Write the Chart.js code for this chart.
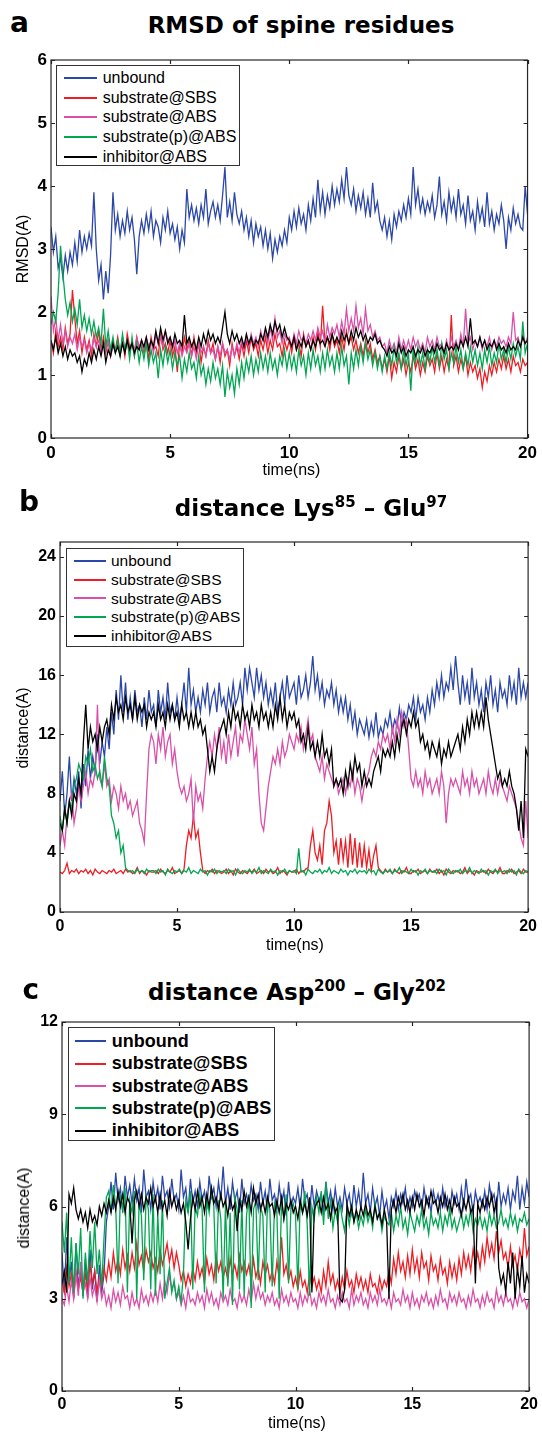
<!DOCTYPE html>
<html>
<head>
<meta charset="utf-8">
<script src="https://cdn.jsdelivr.net/npm/chart.js@4.4.1/dist/chart.umd.min.js"></script>
<style>
  body { margin: 0; background: #fff; }
  #page { position: relative; width: 542px; height: 1434px; overflow: hidden; font-family: "Liberation Sans", Arial, sans-serif; color: #000; }
  canvas { position: absolute; left: 0; }
  .lbl { position: absolute; line-height: 1; white-space: nowrap; }
  .letter { font-family: "DejaVu Sans", sans-serif; font-weight: bold; font-size: 28px; }
  .title { font-family: "DejaVu Sans", sans-serif; font-weight: bold; font-size: 23px; transform: translateX(-50%); }
  .title sup { font-size: 15px; vertical-align: 9px; line-height: 0; }
  .xt { font-size: 16px; transform: translate(-50%, -50%); }
  .yt { font-size: 16px; transform: translate(-50%, -50%) rotate(-90deg); }
  .legend { position: absolute; box-sizing: border-box; border: 1.3px solid #333; background: #fff; }
  .legend .ln { position: absolute; height: 2px; }
  .legend .tx { position: absolute; line-height: 1; white-space: nowrap; transform: translateY(-50%); }
</style>
</head>
<body>
<div id="page">
  <div class="lbl letter" style="left:10px; top:9px;">a</div>
  <div class="lbl title" style="left:301px; top:13.5px;">RMSD of spine residues</div>
  <canvas id="ca" width="542" height="440" style="top:40px;"></canvas>
  <div class="lbl yt" style="left:22.5px; top:248.5px;">RMSD(A)</div>
  <div class="lbl xt" style="left:291.5px; top:470px;">time(ns)</div>
  <div class="legend" id="lga" style="left:56.4px; top:65px; width:184px; height:101px;"></div>

  <div class="lbl letter" style="left:19px; top:488px;">b</div>
  <div class="lbl title" style="left:311px; top:496.5px;">distance Lys<sup>85</sup> – Glu<sup>97</sup></div>
  <canvas id="cb" width="542" height="460" style="top:500px;"></canvas>
  <div class="lbl yt" style="left:22.5px; top:728px;">distance(A)</div>
  <div class="lbl xt" style="left:295px; top:945px;">time(ns)</div>
  <div class="legend" id="lgb" style="left:65.8px; top:548.3px; width:178.5px; height:98.4px;"></div>

  <div class="lbl letter" style="left:22.5px; top:976px;">c</div>
  <div class="lbl title" style="left:297px; top:980.5px;">distance Asp<sup>200</sup> – Gly<sup>202</sup></div>
  <canvas id="cc" width="542" height="444" style="top:990px;"></canvas>
  <div class="lbl yt" style="left:24px; top:1208px;">distance(A)</div>
  <div class="lbl xt" style="left:297px; top:1423px;">time(ns)</div>
  <div class="legend" id="lgc" style="left:68.3px; top:1026.7px; width:207px; height:114px;"></div>
</div>

<script>
const step = 0.1; // ns between samples
const xTicks = [0, 5, 10, 15, 20];
const aYTicks = [0, 1, 2, 3, 4, 5, 6];
const bYTicks = [0, 4, 8, 12, 16, 20, 24];
const cYTicks = [0, 3, 6, 9, 12];

const seriesNames = ["unbound", "substrate@SBS", "substrate@ABS", "substrate(p)@ABS", "inhibitor@ABS"];
const seriesColors = ["#2b47a8", "#ee1d24", "#da50a8", "#00a651", "#000000"];

/* ===== a: RMSD of spine residues ===== */
const aUnbound = [
  3.35, 2.95, 3.2, 2.7, 2.85, 2.55, 2.9, 2.65, 2.95, 2.75,
  3.1, 2.8, 3.3, 2.95, 3.2, 3.0, 3.25, 3.05, 3.9, 3.0,
  2.5, 2.75, 2.2, 2.65, 2.3, 2.9, 3.9, 3.3, 3.55, 3.2,
  3.45, 3.25, 3.6, 3.3, 3.5, 3.15, 2.6, 3.2, 3.45, 3.25,
  3.55, 3.3, 3.6, 3.2, 3.45, 3.35, 3.1, 3.5, 3.3, 3.6,
  3.25, 3.4, 3.15, 3.35, 3.0, 3.3, 3.1, 3.95, 3.5, 3.7,
  3.45, 3.65, 3.4, 3.7, 3.5, 3.95, 3.4, 3.6, 3.75, 3.5,
  3.7, 3.45, 3.85, 4.3, 3.5, 3.75, 3.45, 3.9, 3.55, 3.4,
  3.6, 3.3, 3.5, 3.2, 3.45, 3.1, 3.4, 3.2, 3.35, 3.05,
  3.3, 3.0, 3.25, 2.85, 3.15, 2.95, 3.2, 3.05, 3.3, 3.1,
  3.5, 3.3, 3.6, 3.35, 3.65, 3.4, 3.55, 3.3, 3.7, 3.45,
  3.8, 3.5, 4.1, 3.6, 3.9, 3.55, 3.85, 3.65, 4.0, 3.7,
  3.95, 3.75, 4.1, 3.8, 4.3, 3.85, 3.7, 3.95, 3.6, 3.85,
  3.65, 3.9, 3.55, 3.8, 3.5, 4.05, 3.6, 3.75, 3.45, 3.3,
  3.5, 3.2, 3.45, 3.15, 3.55, 3.35, 3.6, 3.45, 3.7, 3.5,
  3.8, 3.55, 4.3, 3.7, 3.95, 3.6, 3.8, 3.55, 3.75, 3.6,
  3.85, 3.5, 3.7, 4.15, 3.55, 3.75, 3.45, 3.9, 3.6, 3.8,
  3.5, 3.95, 3.55, 3.7, 3.4, 3.85, 3.45, 3.6, 3.3, 3.75,
  3.45, 3.65, 3.35, 3.9, 3.4, 3.6, 3.3, 3.55, 3.4, 3.7,
  3.45, 3.0, 3.5, 3.3, 3.65, 3.4, 3.55, 3.35, 3.3, 4.0,
  3.55
];
const aSbs = [
  1.55, 1.35, 1.7, 1.45, 1.6, 1.4, 1.75, 1.5, 1.65, 2.35,
  1.9, 1.5, 1.7, 1.35, 1.6, 1.4, 1.55, 1.3, 1.65, 1.45,
  1.7, 1.4, 1.6, 1.35, 1.55, 1.3, 1.5, 1.4, 1.6, 1.35,
  1.55, 1.3, 1.65, 1.45, 1.5, 1.3, 1.6, 1.4, 1.55, 1.35,
  1.5, 1.25, 1.6, 1.4, 1.45, 1.3, 1.65, 1.4, 1.5, 1.35,
  1.55, 1.3, 1.45, 1.05, 1.5, 1.35, 1.6, 1.4, 1.55, 1.3,
  1.6, 1.35, 1.5, 1.2, 1.45, 1.3, 1.55, 1.35, 1.5, 1.25,
  1.45, 1.2, 1.5, 1.3, 1.4, 1.15, 1.5, 1.3, 1.45, 1.25,
  1.5, 1.3, 1.55, 1.35, 1.6, 1.4, 1.5, 1.3, 1.55, 1.4,
  1.6, 1.35, 1.55, 1.4, 1.65, 1.45, 1.5, 1.3, 1.55, 1.4,
  1.55, 1.35, 1.6, 1.4, 1.5, 1.3, 1.65, 1.45, 1.55, 1.4,
  1.6, 1.4, 1.7, 1.45, 2.1, 1.5, 1.6, 1.4, 1.65, 1.45,
  1.55, 1.35, 1.6, 1.4, 1.7, 1.5, 1.6, 1.4, 1.55, 1.35,
  1.5, 1.3, 1.55, 1.35, 1.5, 1.25, 1.4, 1.2, 1.3, 1.1,
  1.25, 1.05, 1.3, 0.95, 1.2, 1.05, 1.3, 1.1, 1.25, 1.0,
  1.2, 1.05, 1.3, 1.1, 1.25, 1.0, 1.2, 1.05, 1.3, 1.15,
  1.25, 1.05, 1.35, 1.1, 1.3, 1.05, 1.25, 1.1, 1.95, 1.15,
  1.3, 1.05, 1.25, 1.1, 1.3, 1.0, 1.2, 1.05, 1.15, 0.95,
  1.1, 0.8, 1.05, 0.9, 1.15, 1.0, 1.2, 1.05, 1.25, 1.1,
  1.3, 1.1, 1.25, 1.05, 1.3, 1.15, 1.2, 1.05, 1.25, 1.15,
  1.2
];
const aAbs = [
  2.25, 1.7, 1.9, 1.55, 1.8, 1.5, 1.7, 1.45, 1.6, 1.5,
  1.65, 1.4, 1.6, 1.45, 1.55, 1.35, 1.5, 1.4, 1.6, 1.45,
  1.55, 1.35, 1.5, 1.4, 1.55, 1.3, 1.45, 1.4, 1.5, 1.35,
  1.6, 1.4, 1.55, 1.35, 1.5, 1.4, 1.6, 1.45, 1.55, 1.4,
  1.6, 1.45, 1.55, 1.35, 1.65, 1.5, 1.6, 1.45, 1.7, 1.55,
  1.6, 1.4, 1.55, 1.35, 1.5, 1.3, 1.45, 1.35, 1.5, 1.3,
  1.45, 1.25, 1.5, 1.35, 1.45, 1.3, 1.5, 1.35, 1.4, 1.25,
  1.45, 1.3, 1.5, 1.35, 1.4, 1.25, 1.45, 1.3, 1.5, 1.35,
  1.55, 1.4, 1.6, 1.45, 1.65, 1.5, 1.6, 1.45, 1.7, 1.55,
  1.7, 1.5, 1.75, 1.55, 1.9, 1.6, 1.7, 1.5, 1.65, 1.55,
  1.6, 1.45, 1.65, 1.5, 1.7, 1.55, 1.6, 1.5, 1.65, 1.55,
  1.7, 1.55, 1.75, 1.6, 1.7, 1.5, 1.8, 1.6, 1.75, 1.65,
  1.8, 1.6, 1.85, 1.65, 2.05, 1.7, 1.9, 1.7, 2.1, 1.75,
  1.9, 1.65, 2.05, 1.7, 1.8, 1.6, 1.7, 1.55, 1.6, 1.45,
  1.5, 1.35, 1.55, 1.4, 1.5, 1.35, 1.6, 1.4, 1.55, 1.4,
  1.55, 1.4, 1.6, 1.45, 1.55, 1.4, 1.5, 1.35, 1.6, 1.45,
  1.55, 1.4, 1.6, 1.45, 1.5, 1.35, 1.55, 1.4, 1.6, 1.45,
  1.55, 1.4, 1.65, 1.45, 2.05, 1.5, 1.6, 1.4, 1.55, 1.45,
  1.6, 1.4, 1.55, 1.45, 1.6, 1.4, 1.55, 1.45, 1.6, 1.5,
  1.55, 1.45, 1.6, 1.5, 2.0, 1.55, 1.6, 1.45, 1.65, 1.5,
  1.6
];
const aAbsP = [
  1.8, 2.0, 1.85, 2.3, 3.05, 2.6, 2.2, 1.95, 2.15, 1.85,
  2.05, 1.8, 2.2, 1.75, 1.95, 1.7, 1.9, 1.65, 1.85, 1.6,
  1.75, 1.5, 2.05, 1.45, 1.7, 1.4, 1.6, 1.35, 1.55, 1.3,
  1.65, 1.4, 1.55, 1.25, 1.6, 1.3, 1.5, 1.2, 1.45, 1.25,
  1.5, 1.15, 1.4, 1.2, 1.35, 0.95, 1.4, 1.15, 1.45, 1.2,
  1.4, 1.1, 1.35, 1.15, 1.3, 0.95, 1.25, 1.05, 1.35, 1.1,
  1.2, 0.95, 1.3, 1.0, 1.15, 0.85, 1.1, 0.9, 1.2, 0.95,
  1.1, 0.85, 1.15, 0.65, 1.05, 0.8, 1.0, 0.7, 1.1, 0.85,
  1.2, 0.95, 1.25, 1.05, 1.3, 1.0, 1.25, 1.05, 1.35, 1.1,
  1.3, 1.05, 1.35, 1.1, 1.25, 1.0, 1.3, 1.15, 1.4, 1.1,
  1.35, 1.1, 1.3, 1.05, 1.4, 1.15, 1.3, 1.0, 1.35, 1.1,
  1.4, 1.15, 1.3, 1.05, 1.35, 1.1, 1.4, 1.15, 1.3, 1.05,
  1.35, 1.1, 1.45, 1.15, 1.3, 0.85, 1.35, 1.1, 1.4, 1.15,
  1.45, 1.2, 1.5, 1.25, 1.4, 1.15, 1.35, 1.1, 1.3, 1.05,
  1.3, 1.1, 1.35, 1.15, 1.45, 1.2, 1.35, 1.1, 1.4, 1.15,
  1.35, 0.75, 1.4, 1.2, 1.45, 1.15, 1.35, 1.1, 1.4, 1.2,
  1.45, 1.2, 1.4, 1.15, 1.5, 1.25, 1.4, 1.1, 1.35, 1.2,
  1.45, 1.2, 1.4, 1.1, 1.35, 1.15, 1.45, 1.2, 1.4, 1.15,
  1.35, 1.1, 1.4, 1.2, 1.45, 1.15, 1.35, 1.2, 1.5, 1.25,
  1.4, 1.2, 1.45, 1.25, 1.5, 1.3, 1.45, 1.25, 1.85, 1.35,
  1.5
];
const aInhib = [
  1.55, 1.4, 1.6, 1.35, 1.5, 1.3, 1.45, 1.25, 1.4, 1.3,
  1.35, 1.2, 1.3, 1.05, 1.25, 1.15, 1.35, 1.2, 1.4, 1.25,
  1.45, 1.3, 1.5, 1.2, 1.4, 1.3, 1.5, 1.35, 1.45, 1.3,
  1.5, 1.35, 1.55, 1.4, 1.5, 1.35, 1.45, 1.4, 1.55, 1.45,
  1.6, 1.4, 1.55, 1.45, 1.7, 1.5, 1.75, 1.55, 1.7, 1.5,
  1.6, 1.45, 1.65, 1.5, 1.55, 1.45, 1.95, 1.5, 1.6, 1.45,
  1.55, 1.4, 1.6, 1.45, 1.65, 1.5, 1.7, 1.55, 1.65, 1.5,
  1.6, 1.5, 1.75, 2.0, 1.65, 1.5, 1.7, 1.55, 1.65, 1.5,
  1.6, 1.45, 1.65, 1.5, 1.6, 1.45, 1.55, 1.5, 1.65, 1.55,
  1.75, 1.6, 1.8, 1.65, 1.85, 1.7, 1.8, 1.6, 1.75, 1.6,
  1.55, 1.45, 1.6, 1.4, 1.55, 1.45, 1.6, 1.45, 1.55, 1.4,
  1.55, 1.45, 1.6, 1.5, 1.55, 1.45, 1.6, 1.5, 1.65, 1.5,
  1.6, 1.5, 1.7, 1.55, 1.65, 1.5, 1.7, 1.55, 1.75, 1.6,
  1.7, 1.55, 1.65, 1.5, 1.6, 1.55, 1.65, 1.5, 1.55, 1.45,
  1.4, 1.3, 1.45, 1.35, 1.4, 1.3, 1.5, 1.35, 1.45, 1.3,
  1.4, 1.35, 1.45, 1.3, 1.4, 1.35, 1.45, 1.3, 1.4, 1.35,
  1.45, 1.35, 1.5, 1.4, 1.45, 1.35, 1.5, 1.4, 1.45, 1.4,
  1.5, 1.4, 1.55, 1.45, 1.6, 1.45, 1.9, 1.5, 1.55, 1.45,
  1.6, 1.45, 1.55, 1.4, 1.5, 1.45, 1.55, 1.4, 1.5, 1.4,
  1.45, 1.35, 1.5, 1.4, 1.45, 1.4, 1.55, 1.45, 1.6, 1.5,
  1.55
];

/* ===== b: distance Lys85 - Glu97 ===== */
const bUnbound = [
  7.5, 9.5, 6.5, 8, 10.5, 7.5, 9, 8, 9.5, 7,
  10, 8.5, 11, 9, 10.5, 9.5, 12, 10, 11.5, 10.5,
  12.5, 11, 13.5, 12, 15, 13, 16, 13.5, 15.5, 13,
  14.5, 13, 15, 13.5, 14, 12.5, 14.5, 13, 15, 13.5,
  14, 12.5, 15, 13.5, 14.5, 13, 15.5, 13.5, 14, 13,
  14.5, 13, 14, 15.5, 13.5, 16.5, 14, 15, 13.5, 14.5,
  13.5, 15, 14, 15.5, 13.5, 14.5, 15, 13.5, 15.5, 14,
  14.5, 13.5, 15, 14, 15.5, 14, 14.5, 15.5, 14, 16.5,
  15, 16.5, 15.5, 14.5, 16.5, 15, 16, 14.5, 15.5, 14,
  15, 14, 15.5, 13.5, 14.5, 15.5, 14, 16, 14.5, 15,
  15.5, 14, 16, 14.5, 15, 16, 14.5, 15.5, 17.3, 15,
  16, 14.5, 15.5, 14, 15, 14.5, 15.5, 14, 15, 13.5,
  14.5, 13.5, 14.5, 13, 14, 12.5, 13.5, 12, 13, 12.5,
  12, 13, 11.8, 12.8, 12, 13.5, 11.8, 12.5, 12, 13,
  12.5, 13.5, 12.2, 13, 12.5, 13.8, 12.5, 13.5, 13, 14,
  13.5, 14.5, 13, 14.5, 13.5, 14, 13, 14.5, 13.5, 15,
  14, 15.5, 14.5, 16, 14.5, 15.5, 15, 16.5, 15, 17.3,
  15.5, 14, 16, 14.5, 15.5, 14, 16.5, 14.5, 15.5, 14,
  15, 13.5, 15.5, 14.5, 16, 14, 15, 13.5, 15.5, 14.5,
  15, 14, 16, 14.5, 15.5, 14, 16.5, 14.5, 15.5, 14.5,
  15.5
];
const bSbs = [
  2.7, 2.6, 2.8, 3.3, 2.6, 2.8, 2.7, 2.9, 2.6, 2.8,
  2.7, 2.9, 2.6, 2.8, 2.5, 2.9, 2.7, 2.6, 2.8, 2.7,
  2.6, 2.8, 2.7, 2.9, 2.6, 2.7, 2.8, 2.6, 2.9, 2.7,
  2.8, 2.6, 2.7, 3.0, 2.6, 2.8, 2.7, 2.5, 2.8, 2.7,
  2.7, 2.8, 2.6, 2.9, 2.7, 2.6, 2.8, 2.7, 3.0, 2.6,
  2.7, 2.8, 2.6, 2.9, 4.5, 5.5, 5.0, 6.5, 5.0, 5.5,
  4.0, 2.8, 2.6, 2.8, 2.7, 2.9, 2.6, 2.8, 2.7, 2.6,
  2.7, 2.9, 2.6, 2.8, 2.5, 2.9, 2.7, 2.6, 2.8, 2.7,
  2.6, 2.8, 2.7, 2.9, 2.6, 2.7, 2.8, 2.6, 2.9, 2.7,
  2.8, 2.6, 2.7, 3.0, 2.6, 2.8, 2.7, 2.5, 2.8, 2.7,
  2.7, 2.9, 2.6, 2.8, 2.7, 2.9, 3.0, 4.5, 5.5, 4.0,
  3.5, 4.5, 3.2, 5.5, 6.0, 7.5, 6.5, 4.0, 4.8, 3.2,
  5.0, 3.5, 4.8, 3.0, 5.3, 3.2, 5.0, 3.0, 4.7, 3.0,
  4.5, 3.0, 4.2, 2.8, 3.8, 4.5, 3.0, 2.8, 2.6, 2.9,
  2.7, 2.8, 2.6, 2.9, 2.7, 2.6, 2.8, 2.7, 3.0, 2.6,
  2.6, 2.8, 2.7, 2.9, 2.6, 2.7, 2.8, 2.6, 2.9, 2.7,
  2.7, 2.9, 2.6, 2.8, 2.5, 2.9, 2.7, 2.6, 2.8, 2.7,
  2.8, 2.6, 2.7, 3.0, 2.6, 2.8, 2.7, 2.5, 2.8, 2.7,
  2.7, 2.8, 2.6, 2.9, 2.7, 2.6, 2.8, 2.7, 3.0, 2.6,
  2.6, 2.8, 2.7, 2.9, 2.6, 2.7, 2.8, 2.6, 2.9, 2.7,
  2.7
];
const bAbs = [
  4.5, 5.5, 4.5, 6.5, 7.5, 8, 6, 7, 8.5, 7.5,
  8.5, 9.5, 8, 9, 8.5, 9.5, 14, 9, 8.5, 10,
  8.5, 9, 7.5, 8.5, 8, 7, 8.5, 7.5, 8, 7,
  7.5, 6.5, 7, 7.5, 6, 5.5, 4.7, 8, 11, 12,
  11.5, 10, 12, 11, 12.5, 10.5, 11.5, 12, 10, 11,
  9.5, 8.5, 8, 8.5, 7.5, 8, 9, 6, 8.5, 7.5,
  8, 7, 9, 10.5, 11.5, 10.5, 12, 11, 12.5, 10.5,
  11.5, 10, 12, 10.5, 11.5, 12.5, 10.5, 12, 11.5, 13,
  12, 11, 12.5, 10, 11, 8, 6, 5.5, 7, 8.5,
  9.5, 10.5, 10, 11, 10, 11.5, 10.5, 11, 12, 11.5,
  11, 12, 11.5, 12.5, 11, 12, 13, 11.5, 12, 10.5,
  10, 9.5, 10.5, 9, 10, 9.5, 9, 8.5, 9, 8,
  8.5, 9, 8, 9, 8.5, 9.5, 8, 9, 8.5, 7.5,
  8.5, 9, 9.5, 10.5, 11, 10.5, 11.5, 11, 12, 11.5,
  12, 11, 12.5, 11.5, 13, 12, 13.5, 12.5, 13, 11,
  9, 8.5, 9.5, 8.5, 9, 8, 9.5, 8.5, 9, 8,
  8.5, 9, 8, 9.5, 8.5, 6, 8, 9, 8.5, 9,
  8.5, 8, 9.5, 8.5, 9, 8, 9.5, 8.5, 9, 8,
  8.5, 9, 8, 9.5, 8.5, 8, 9, 8, 9, 8.5,
  8, 7.5, 8.5, 8, 7.5, 7, 6, 5, 4.5, 7.5,
  5
];
const bAbsP = [
  6.5, 5.5, 7, 6, 7.5, 7, 8.5, 9, 10, 9.5,
  9, 10.5, 10, 11, 9.5, 10, 9, 9.5, 8.5, 10.5,
  9, 8.5, 6.5, 6, 5, 5.5, 4, 4.5, 3, 2.8,
  2.7, 2.8, 2.6, 2.9, 2.7, 2.8, 2.6, 2.9, 2.7, 2.8,
  2.8, 2.6, 2.9, 2.7, 2.8, 2.5, 2.9, 2.7, 2.6, 2.8,
  2.7, 2.9, 2.6, 2.8, 2.7, 3.0, 2.6, 2.8, 2.7, 2.6,
  2.9, 2.7, 2.8, 2.5, 2.8, 2.7, 2.9, 2.6, 2.8, 2.7,
  2.8, 2.6, 2.9, 2.7, 2.8, 2.5, 2.9, 2.7, 2.6, 2.8,
  2.7, 2.9, 2.6, 2.8, 2.7, 3.0, 2.6, 2.8, 2.7, 2.6,
  2.9, 2.7, 2.8, 2.5, 2.8, 2.7, 2.9, 2.6, 2.8, 2.7,
  2.8, 2.6, 4.3, 2.7, 2.8, 2.5, 2.9, 2.7, 2.6, 2.8,
  2.7, 2.9, 2.6, 2.8, 2.7, 3.0, 2.6, 2.8, 2.7, 2.6,
  2.9, 2.7, 2.8, 2.5, 2.8, 2.7, 2.9, 2.6, 2.8, 2.7,
  2.8, 2.6, 2.9, 2.7, 2.8, 2.5, 2.9, 2.7, 2.6, 2.8,
  2.7, 2.9, 2.6, 2.8, 2.7, 3.0, 2.6, 2.8, 2.7, 2.6,
  2.9, 2.7, 2.8, 2.5, 2.8, 2.7, 2.9, 2.6, 2.8, 2.7,
  2.8, 2.6, 2.9, 2.7, 2.8, 2.5, 2.9, 2.7, 2.6, 2.8,
  2.7, 2.9, 2.6, 2.8, 2.7, 3.0, 2.6, 2.8, 2.7, 2.6,
  2.9, 2.7, 2.8, 2.5, 2.8, 2.7, 2.9, 2.6, 2.8, 2.7,
  2.8, 2.6, 2.9, 2.7, 2.8, 2.5, 2.9, 2.7, 2.6, 2.8,
  2.7
];
const bInhib = [
  6, 5.5, 7, 6, 7.5, 6.5, 8, 7.5, 9, 8,
  11.5, 14, 11, 12.5, 11.5, 12, 11, 12.5, 11.5, 12.5,
  13, 12, 14, 13, 14.5, 13.5, 14, 13, 14.5, 13.5,
  14, 13, 14.5, 13, 14, 13.5, 14, 12.5, 13.5, 13,
  13.5, 12.5, 14, 13, 13.5, 12.5, 14, 13, 14, 13,
  13.5, 12.5, 14, 13, 13.5, 12.5, 13.5, 12.5, 13.5, 12.5,
  13, 12, 12.5, 11, 9.5, 10.5, 9.5, 11, 12, 12.5,
  13, 12, 13.5, 12.5, 14, 13, 13.5, 12.5, 14, 13,
  13.5, 12.5, 14, 13, 13.5, 12.5, 14, 13, 13.5, 12.5,
  13.5, 12.5, 14, 13, 14.5, 13, 14, 12.5, 13.5, 13,
  13.5, 12.5, 13, 11.5, 12, 11, 12.5, 11, 11.5, 10.5,
  11.5, 10.5, 12, 10.5, 11, 10, 11, 8.5, 9, 8.5,
  9, 8, 9.5, 8.5, 10, 9, 10.5, 9.5, 10, 8.5,
  9.5, 8.5, 9, 8.5, 9.5, 10, 10.5, 9.5, 11, 10.5,
  11, 10.5, 11.5, 10.5, 12, 11, 12.5, 13, 12, 13,
  12.5, 13.5, 12.5, 13, 11.5, 12, 11, 11.5, 10.5, 11.5,
  11, 10.5, 11.5, 10, 11, 10.5, 11.5, 10.5, 11, 11.5,
  12, 11, 12.5, 11.5, 13, 12, 13.5, 12.5, 13.5, 12.5,
  13.5, 12.5, 14.5, 13, 12, 11, 10, 9, 9.5, 8.5,
  9, 8.5, 9.5, 8.5, 8, 7, 5.5, 7.5, 5, 11,
  10.5
];

/* ===== c: distance Asp200 - Gly202 ===== */
const cUnbound = [
  4.5, 3.2, 5.0, 3.5, 4.2, 3.0, 4.8, 3.4, 4.0, 3.1,
  4.3, 3.0, 4.6, 3.3, 3.9, 2.9, 4.1, 3.2, 3.8, 5.5,
  6.0, 6.8, 5.9, 7.1, 6.2, 6.6, 5.8, 7.0, 6.3, 6.7,
  6.1, 6.9, 6.2, 6.6, 5.8, 7.2, 6.3, 6.5, 5.9, 6.8,
  6.2, 6.6, 5.9, 7.0, 6.3, 6.5, 6.0, 6.9, 6.2, 6.4,
  5.9, 7.2, 6.3, 6.6, 5.8, 6.9, 6.1, 6.5, 6.0, 6.8,
  6.2, 6.5, 5.9, 7.0, 6.3, 6.6, 6.0, 6.8, 6.2, 7.3,
  6.1, 6.6, 5.9, 6.8, 6.2, 6.5, 5.8, 6.9, 6.1, 6.4,
  6.0, 6.7, 6.2, 6.4, 5.9, 6.8, 6.1, 6.5, 5.8, 6.9,
  6.2, 6.4, 5.9, 6.7, 6.1, 6.5, 5.7, 6.8, 6.0, 6.3,
  6.1, 6.6, 5.9, 6.9, 6.2, 6.4, 5.8, 6.7, 6.0, 6.5,
  6.2, 6.4, 5.8, 6.8, 6.1, 6.5, 5.9, 6.6, 6.0, 6.3,
  5.9, 6.6, 6.1, 6.4, 5.8, 6.7, 6.0, 6.5, 5.9, 7.1,
  6.1, 6.4, 5.8, 6.6, 6.0, 6.3, 5.7, 6.5, 5.9, 6.2,
  5.6, 6.3, 6.0, 6.5, 5.9, 6.4, 6.1, 6.6, 5.9, 6.3,
  6.0, 6.5, 6.2, 6.4, 5.9, 6.6, 6.1, 6.3, 5.8, 6.5,
  6.1, 6.4, 5.9, 6.6, 6.0, 6.3, 5.8, 6.5, 6.1, 6.4,
  5.9, 6.6, 6.0, 6.9, 6.2, 6.4, 5.8, 6.5, 6.1, 6.3,
  6.0, 6.5, 5.9, 6.7, 6.2, 6.4, 5.8, 6.8, 6.0, 6.4,
  6.1, 6.6, 5.9, 6.5, 6.2, 7.0, 5.9, 6.6, 6.1, 6.8,
  6.3
];
const cSbs = [
  3.6, 3.2, 4.0, 3.4, 3.8, 3.1, 3.9, 3.3, 3.7, 3.2,
  3.8, 3.3, 4.1, 3.5, 3.9, 3.2, 3.7, 3.4, 4.0, 3.6,
  4.2, 3.7, 4.5, 3.9, 4.3, 3.8, 4.6, 4.0, 4.4, 3.9,
  4.5, 4.0, 4.8, 4.1, 4.4, 3.9, 4.6, 4.2, 4.5, 4.0,
  4.3, 3.9, 4.6, 4.1, 4.4, 4.8, 4.2, 4.6, 4.0, 4.5,
  4.1, 3.6, 3.9, 3.4, 3.8, 3.5, 4.0, 3.6, 4.2, 3.7,
  4.0, 3.5, 4.3, 3.8, 4.1, 3.6, 4.4, 3.9, 4.2, 3.7,
  4.0, 3.6, 4.3, 3.8, 4.1, 3.7, 4.4, 3.9, 4.2, 3.8,
  4.1, 3.6, 4.3, 3.7, 4.0, 3.5, 4.2, 3.8, 4.1, 3.6,
  3.9, 3.5, 4.2, 3.7, 5.0, 3.8, 4.1, 3.6, 3.9, 3.4,
  3.7, 3.3, 3.9, 3.4, 3.6, 3.2, 3.8, 3.4, 3.7, 3.3,
  3.6, 3.2, 3.9, 3.4, 4.2, 3.5, 3.8, 3.3, 3.6, 3.2,
  3.7, 3.3, 3.9, 3.4, 3.6, 3.2, 3.8, 3.4, 3.7, 3.3,
  3.6, 3.2, 3.8, 3.4, 3.5, 3.2, 3.7, 3.3, 3.6, 3.4,
  3.9, 3.5, 4.3, 3.8, 4.5, 3.9, 4.2, 3.7, 4.4, 3.8,
  4.6, 3.9, 4.3, 3.7, 4.5, 4.0, 4.2, 3.6, 4.4, 3.9,
  4.1, 3.6, 4.3, 3.8, 4.0, 3.5, 4.2, 3.7, 4.1, 3.6,
  4.3, 3.8, 4.5, 4.0, 4.4, 3.9, 4.6, 4.1, 4.5, 4.0,
  4.7, 4.2, 5.0, 4.4, 4.8, 4.3, 5.2, 4.5, 4.9, 4.3,
  4.5, 4.0, 4.7, 4.1, 4.4, 3.9, 4.6, 4.2, 5.3, 4.4,
  4.7
];
const cAbs = [
  3.0, 2.8, 3.4, 2.9, 3.6, 3.0, 3.8, 3.1, 4.2, 3.2,
  3.5, 3.0, 3.7, 3.1, 3.4, 2.9, 3.6, 3.0, 3.3, 2.8,
  3.1, 2.7, 3.3, 2.9, 3.2, 2.8, 3.4, 3.0, 3.1, 2.7,
  3.2, 2.8, 3.0, 2.7, 3.3, 2.9, 3.1, 2.8, 3.2, 2.9,
  3.3, 2.9, 3.5, 3.0, 3.6, 3.2, 3.8, 3.3, 3.5, 3.0,
  3.2, 2.8, 3.1, 2.7, 3.3, 2.9, 3.0, 2.8, 3.2, 2.9,
  3.1, 2.7, 3.3, 2.9, 3.2, 2.8, 3.0, 2.7, 3.2, 2.9,
  3.1, 2.8, 3.3, 2.9, 3.0, 2.7, 3.2, 2.9, 3.1, 2.8,
  3.3, 2.9, 3.5, 3.0, 3.4, 3.0, 3.2, 2.8, 3.1, 2.9,
  3.2, 2.8, 3.0, 2.7, 3.3, 2.9, 3.1, 2.8, 3.2, 2.9,
  3.0, 2.7, 3.2, 2.8, 3.1, 2.9, 3.3, 2.8, 3.0, 2.7,
  3.2, 2.9, 3.1, 2.8, 3.3, 2.9, 3.0, 2.7, 3.1, 2.8,
  3.2, 2.9, 3.0, 2.7, 3.3, 2.8, 3.1, 2.9, 3.2, 2.8,
  3.0, 2.7, 3.2, 2.9, 3.1, 2.8, 3.3, 2.9, 3.0, 2.8,
  3.1, 2.7, 3.2, 2.9, 3.0, 2.8, 3.3, 2.9, 3.1, 2.7,
  3.2, 2.8, 3.0, 2.7, 3.1, 2.9, 3.2, 2.8, 3.0, 2.7,
  3.1, 2.8, 3.3, 2.9, 3.0, 2.7, 3.2, 2.9, 3.1, 2.8,
  3.2, 2.9, 3.0, 2.7, 3.1, 2.8, 3.3, 2.9, 3.0, 2.7,
  3.1, 2.8, 3.2, 2.9, 3.0, 2.7, 3.3, 2.9, 3.1, 2.8,
  3.2, 2.9, 3.0, 2.7, 3.1, 2.8, 3.2, 2.9, 3.0, 2.7,
  3.0
];
const cAbsP = [
  5.5, 4.5, 5.8, 3.5, 5.0, 3.2, 4.8, 3.8, 5.3, 3.0,
  4.5, 3.5, 5.2, 4.0, 5.5, 3.8, 4.6, 3.4, 5.0, 6.3,
  6.5, 5.8, 6.7, 6.0, 3.5, 6.4, 5.9, 6.6, 3.2, 6.2,
  5.8, 6.5, 3.0, 6.1, 5.7, 3.6, 6.3, 5.9, 3.3, 6.4,
  3.1, 5.8, 3.8, 6.2, 3.0, 3.5, 4.0, 3.2, 3.6, 3.0,
  3.4, 2.9, 3.8, 6.2, 5.8, 6.5, 3.3, 6.0, 5.7, 6.4,
  5.9, 3.2, 6.3, 5.8, 6.6, 6.0, 3.5, 6.2, 5.6, 3.0,
  6.1, 3.4, 5.8, 2.8, 6.3, 5.9, 3.3, 6.2, 3.1, 5.7,
  6.4, 2.7, 5.9, 6.2, 3.6, 6.0, 5.7, 3.2, 6.3, 5.9,
  3.4, 6.1, 5.8, 3.0, 6.2, 5.6, 6.4, 3.5, 5.9, 6.1,
  5.7, 3.3, 6.2, 5.8, 6.5, 5.4, 3.1, 6.0, 5.6, 6.3,
  5.8, 6.5, 5.4, 6.8, 5.6, 6.2, 5.3, 5.9, 5.5, 6.1,
  5.6, 5.2, 5.9, 5.4, 6.0, 5.5, 5.8, 5.3, 5.7, 5.4,
  5.9, 5.5, 5.8, 5.3, 6.1, 5.6, 5.8, 5.2, 5.7, 5.5,
  5.4, 5.8, 5.2, 5.7, 5.4, 6.0, 5.3, 5.6, 5.1, 5.8,
  5.5, 5.2, 5.7, 5.4, 5.9, 5.3, 5.6, 5.1, 5.8, 5.4,
  5.6, 5.3, 5.8, 5.2, 5.7, 5.4, 5.9, 5.3, 5.6, 5.2,
  5.5, 5.8, 5.3, 5.7, 5.4, 5.9, 5.2, 5.6, 5.4, 5.7,
  5.3, 5.6, 5.2, 5.8, 5.4, 5.7, 5.3, 5.5, 5.9, 5.4,
  5.6, 5.3, 5.8, 5.4, 5.7, 5.2, 5.6, 5.5, 5.8, 5.4,
  5.6
];
const cInhib = [
  3.5, 3.9, 3.2, 6.4, 6.1, 6.6, 5.9, 5.6, 5.9, 5.5,
  5.8, 5.3, 5.9, 5.5, 5.7, 5.4, 6.0, 5.7, 6.1, 5.8,
  6.2, 5.8, 6.3, 5.9, 6.5, 6.0, 6.4, 5.8, 6.3, 6.1,
  4.8, 6.2, 6.5, 6.0, 6.4, 5.9, 6.3, 6.1, 6.6, 6.0,
  6.3, 5.8, 6.4, 5.9, 6.2, 5.7, 6.5, 6.0, 6.3, 5.9,
  6.2, 5.8, 6.1, 5.5, 4.6, 5.6, 6.3, 5.9, 6.5, 6.0,
  6.3, 5.8, 6.4, 6.0, 6.6, 6.1, 6.3, 5.9, 6.4, 6.0,
  6.2, 5.7, 6.3, 5.9, 6.1, 5.2, 6.2, 5.9, 6.5, 6.0,
  6.3, 5.8, 6.6, 6.1, 6.4, 5.9, 6.2, 5.8, 6.3, 6.0,
  6.1, 5.7, 6.2, 5.8, 6.3, 5.6, 6.1, 5.9, 6.2, 5.8,
  6.0, 5.6, 6.2, 5.8, 6.1, 5.7, 6.3, 3.2, 5.9, 6.1,
  6.2, 5.8, 6.3, 5.9, 6.1, 5.6, 6.2, 5.8, 6.0, 3.0,
  2.9, 3.3, 6.1, 5.7, 6.0, 5.5, 5.9, 5.6, 6.0, 5.7,
  6.1, 5.7, 5.9, 5.5, 6.0, 5.6, 5.8, 5.4, 5.9, 5.5,
  3.0, 5.9, 6.2, 5.8, 6.3, 6.0, 6.4, 5.9, 6.2, 5.8,
  6.3, 5.9, 6.4, 6.0, 6.2, 5.7, 6.3, 6.0, 6.5, 6.1,
  6.2, 5.8, 6.3, 6.0, 6.4, 5.9, 6.2, 5.8, 6.3, 6.0,
  6.1, 5.7, 6.2, 5.9, 6.3, 5.8, 6.0, 3.5, 6.1, 5.8,
  6.2, 5.9, 6.3, 6.0, 6.4, 5.8, 6.2, 4.0, 3.5, 3.8,
  3.2, 4.2, 3.5, 4.5, 3.0, 4.0, 3.4, 4.4, 3.2, 3.8,
  3.5
];

/* ===== frame + inward tick marks, matlab style ===== */
const framePlugin = {
  id: "frame",
  afterDatasetsDraw(chart) {
    const { ctx, chartArea: a, scales: { x, y } } = chart;
    const tl = 4;
    ctx.save();
    ctx.strokeStyle = "#262626";
    ctx.lineWidth = 1.2;
    ctx.beginPath();
    x.ticks.forEach(t => {
      const px = Math.round(x.getPixelForValue(t.value)) + 0.5;
      ctx.moveTo(px, a.bottom); ctx.lineTo(px, a.bottom - tl);
      ctx.moveTo(px, a.top); ctx.lineTo(px, a.top + tl);
    });
    y.ticks.forEach(t => {
      const py = Math.round(y.getPixelForValue(t.value)) + 0.5;
      ctx.moveTo(a.left, py); ctx.lineTo(a.left + tl, py);
      ctx.moveTo(a.right, py); ctx.lineTo(a.right - tl, py);
    });
    ctx.stroke();
    ctx.strokeRect(a.left, a.top, a.right - a.left, a.bottom - a.top);
    ctx.restore();
  }
};

function makePanel(id, series, yMax, yTicks, yw, pad, fontSize, xPad) {
  const datasets = series.map((vals, i) => ({
    label: seriesNames[i],
    data: vals.map((v, k) => ({ x: k * step, y: v })),
    borderColor: seriesColors[i],
    borderWidth: 1.3,
    pointRadius: 0,
    tension: 0,
    order: series.length - 1 - i
  }));
  const tickFont = { family: "Liberation Sans", weight: "bold", size: fontSize };
  return new Chart(document.getElementById(id), {
    type: "line",
    data: { datasets },
    options: {
      responsive: false,
      animation: false,
      events: [],
      layout: { padding: pad },
      plugins: { legend: { display: false }, tooltip: { enabled: false } },
      scales: {
        x: {
          type: "linear", min: 0, max: 20,
          afterBuildTicks: s => { s.ticks = xTicks.map(v => ({ value: v })); },
          afterFit: s => { s.height = 30; },
          grid: { display: false, drawTicks: false },
          border: { display: false },
          ticks: { font: tickFont, color: "#000", padding: xPad, maxRotation: 0, autoSkip: false }
        },
        y: {
          type: "linear", min: 0, max: yMax,
          afterBuildTicks: s => { s.ticks = yTicks.map(v => ({ value: v })); },
          afterFit: s => { s.width = yw; },
          grid: { display: false, drawTicks: false },
          border: { display: false },
          ticks: { font: tickFont, color: "#000", padding: 4, autoSkip: false }
        }
      }
    },
    plugins: [framePlugin]
  });
}

makePanel("ca", [aUnbound, aSbs, aAbs, aAbsP, aInhib], 6, aYTicks, 51,
  { top: 20, right: 10, bottom: 12, left: 0 }, 17, 5);
makePanel("cb", [bUnbound, bSbs, bAbs, bAbsP, bInhib], 25, bYTicks, 60,
  { top: 42, right: 11, bottom: 18, left: 0 }, 16, 5);
makePanel("cc", [cUnbound, cSbs, cAbs, cAbsP, cInhib], 12, cYTicks, 62,
  { top: 32, right: 10, bottom: 13, left: 0 }, 16, 4);

/* ===== legends (html boxes in the upper left of each plot) ===== */
function makeLegend(id, first, gap, lineFrom, lineTo, textX, font) {
  const box = document.getElementById(id);
  seriesNames.forEach((name, i) => {
    const cy = first + i * gap;
    const ln = document.createElement("div");
    ln.className = "ln";
    ln.style.left = Math.round(lineFrom) + "px";
    ln.style.width = Math.round(lineTo - lineFrom) + "px";
    ln.style.top = (Math.round(cy) - 1) + "px";
    ln.style.backgroundColor = seriesColors[i];
    box.appendChild(ln);
    const tx = document.createElement("div");
    tx.className = "tx";
    tx.textContent = name;
    tx.style.left = textX + "px";
    tx.style.top = cy + "px";
    tx.style.font = font;
    box.appendChild(tx);
  });
}
makeLegend("lga", 11.7, 19.8, 6.9, 40.3, 45.3, "16px 'Liberation Sans', Arial, sans-serif");
makeLegend("lgb", 11.7, 18.8, 6.9, 39.1, 44.2, "15.5px 'Liberation Sans', Arial, sans-serif");
makeLegend("lgc", 13.3, 22.3, 5.7, 36.7, 42.5, "bold 18px 'Liberation Sans', Arial, sans-serif");
</script>
</body>
</html>
